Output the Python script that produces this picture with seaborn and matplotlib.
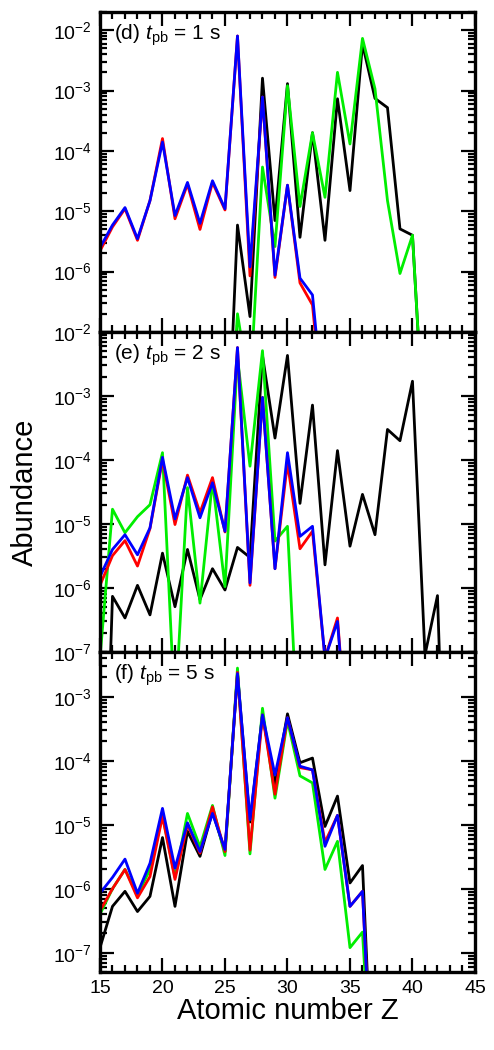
import numpy as np
import pandas as pd
import matplotlib
matplotlib.use("Agg")
import matplotlib.pyplot as plt
import seaborn as sns
from matplotlib.ticker import LogLocator, NullFormatter, MultipleLocator

# atomic number axis
Z = list(range(15, 46))
N = None

# (d) t_pb = 1 s
d_black = [N]*10 + [1e-10, 5.9e-6, 1.8e-7, 1.6e-3, 7e-6, 1.3e-3, 3.7e-6, 2e-4, 3.3e-6, 7.3e-4,
                    2.2e-5, 5.9e-3, 7.4e-4, 5.2e-4, 5.1e-6, 4e-6, 1e-9] + [N]*4
d_green = [N]*10 + [1e-10, 2e-7, 1e-8, 5.4e-5, 2.6e-6, 1.2e-3, 1.2e-5, 2e-4, 1.7e-5, 2e-3,
                    1.3e-4, 7.3e-3, 1.07e-3, 1.5e-5, 9.3e-7, 4e-6, 1e-9] + [N]*4
d_red = [2.2e-6, 5.5e-6, 1.1e-5, 3.3e-6, 1.5e-5, 1.6e-4, 7.5e-6, 2.8e-5, 5e-6, 3e-5,
         1.05e-5, 8e-3, 8.5e-7, 7.8e-4, 8e-7, 2.7e-5, 6.5e-7, 2.8e-7, 2e-9] + [N]*12
d_blue = [2.5e-6, 5.9e-6, 1.15e-5, 3.5e-6, 1.5e-5, 1.4e-4, 8.5e-6, 3e-5, 6.3e-6, 3.2e-5,
          1.1e-5, 8e-3, 1.2e-6, 7.8e-4, 8.7e-7, 2.7e-5, 7.8e-7, 4.1e-7, 3e-9] + [N]*12

# (e) t_pb = 2 s
e_black = [1e-12, 7.4e-7, 3.4e-7, 1.1e-6, 3.8e-7, 3.5e-6, 5.1e-7, 4e-6, 6.6e-7, 2e-6,
           9.3e-7, 4.3e-6, 3e-6, 4.3e-3, 2.2e-4, 4.3e-3, 2.1e-5, 7.2e-4, 2.3e-6, 1.4e-4,
           4.5e-6, 2.9e-5, 6.8e-6, 3e-4, 2e-4, 1.7e-3, 9e-8, 7.6e-7, 1e-12] + [N]*2
e_green = [8e-8, 1.7e-5, 7.3e-6, 1.3e-5, 2e-5, 1.3e-4, 1e-8, 3.7e-5, 5.8e-7, 4.7e-5,
           1.05e-6, 4e-3, 8e-5, 5.1e-3, 5.4e-6, 9.2e-6, 1e-9] + [N]*14
e_red = [1.1e-6, 3.2e-6, 5.5e-6, 2.2e-6, 8.5e-6, 1e-4, 9.8e-6, 5.8e-5, 1.5e-5, 5.3e-5,
         7.5e-6, 5.7e-3, 1.1e-6, 9.5e-4, 2e-6, 9e-5, 4.1e-6, 7.7e-6, 8e-8, 3.4e-7, 1e-9] + [N]*10
e_blue = [1.5e-6, 4e-6, 6.8e-6, 3.3e-6, 8.7e-6, 1.1e-4, 1.2e-5, 5.3e-5, 1.25e-5, 4.4e-5,
          7.7e-6, 5.7e-3, 1.2e-6, 9.5e-4, 2e-6, 1.3e-4, 6.4e-6, 9.2e-6, 8e-8, 3e-7, 1e-9] + [N]*10

# (f) t_pb = 5 s
f_black = [1.2e-7, 5.3e-7, 9.1e-7, 4.4e-7, 7.6e-7, 6.3e-6, 5.3e-7, 7.9e-6, 3.2e-6, 1.6e-5,
           3.8e-6, 2.3e-3, 1.1e-5, 5.2e-4, 4.2e-5, 5.4e-4, 9.3e-5, 1.1e-4, 9.4e-6, 2.8e-5,
           1.23e-6, 2.3e-6, 1e-10] + [N]*8
f_green = [4e-7, 1e-6, 2e-6, 8e-7, 2e-6, 1.4e-5, 1.5e-6, 1.5e-5, 4.5e-6, 2e-5,
           3.3e-6, 2.8e-3, 3.5e-6, 6.6e-4, 2.6e-5, 4.2e-4, 5.8e-5, 4.5e-5, 2e-6, 5.5e-6,
           1.2e-7, 2.1e-7, 1e-10] + [N]*8
f_red = [4.5e-7, 1e-6, 2e-6, 7.2e-7, 1.55e-6, 1.35e-5, 1.4e-6, 1e-5, 3.6e-6, 1.9e-5,
         3.8e-6, 2.4e-3, 4e-6, 5.2e-4, 3e-5, 4.7e-4, 7.8e-5, 7.2e-5, 5.3e-6, 1.4e-5,
         5.3e-7, 9.1e-7, 1e-10] + [N]*8
f_blue = [8.5e-7, 1.5e-6, 2.9e-6, 8.5e-7, 2.5e-6, 1.8e-5, 2.1e-6, 1.07e-5, 3.8e-6, 1.5e-5,
          4.1e-6, 2.3e-3, 1.2e-5, 5.2e-4, 6e-5, 4.7e-4, 8.2e-5, 7.2e-5, 4.6e-6, 1.4e-5,
          5.3e-7, 9.1e-7, 1e-10] + [N]*8

labels = [r"(d) $t_{\rm pb}$ = 1 s", r"(e) $t_{\rm pb}$ = 2 s", r"(f) $t_{\rm pb}$ = 5 s"]
panels = [(d_black, d_green, d_red, d_blue),
          (e_black, e_green, e_red, e_blue),
          (f_black, f_green, f_red, f_blue)]
ylims = [(1e-7, 2e-2), (1e-7, 1e-2), (5e-8, 5e-3)]
models = ["black", "green", "red", "blue"]
palette = {"black": "#000000", "green": "#00ee00", "red": "#ff0000", "blue": "#0000ff"}

sns.set_style("ticks")
plt.rcParams["font.family"] = ["Liberation Sans", "DejaVu Sans"]
plt.rcParams["mathtext.fontset"] = "custom"
plt.rcParams["mathtext.rm"] = "Liberation Sans"
plt.rcParams["mathtext.it"] = "Liberation Sans:italic"
plt.rcParams["mathtext.bf"] = "Liberation Sans:bold"
for key in ["axes.edgecolor", "xtick.color", "ytick.color", "text.color",
            "axes.labelcolor", "xtick.labelcolor", "ytick.labelcolor"]:
    plt.rcParams[key] = "black"

fig, axes = plt.subplots(3, 1, figsize=(4.94, 10.5), dpi=100, sharex=True)
fig.subplots_adjust(left=0.2024, right=0.9615, top=0.9886, bottom=0.0743, hspace=0)

for i, (ax, series) in enumerate(zip(axes, panels)):
    rows = []
    for m, vals in zip(models, series):
        for z, v in zip(Z, vals):
            if v is not None:
                rows.append({"Z": z, "abundance": v, "model": m})
    df = pd.DataFrame(rows)
    sns.lineplot(data=df, x="Z", y="abundance", hue="model", hue_order=models,
                 palette=palette, estimator=None, legend=False, linewidth=2.0, ax=ax)
    ax.set_yscale("log")
    ax.set_xlim(15, 45)
    if i == 0:
        ax.set_yticks([1e-6, 1e-5, 1e-4, 1e-3, 1e-2])
    else:
        ax.yaxis.set_major_locator(LogLocator(base=10, numticks=20))
    ax.yaxis.set_minor_locator(LogLocator(base=10, subs=np.arange(2, 10), numticks=100))
    ax.yaxis.set_minor_formatter(NullFormatter())
    ax.set_ylim(*ylims[i])
    ax.xaxis.set_major_locator(MultipleLocator(5))
    ax.xaxis.set_minor_locator(MultipleLocator(1))
    ax.tick_params(which="both", direction="in", top=True, right=True, width=1.6)
    ax.tick_params(which="major", length=10, labelsize=14, pad=6)
    ax.tick_params(which="minor", length=5)
    for s in ax.spines.values():
        s.set_linewidth(2.4)
    ax.set_ylabel("")
    ax.set_xlabel("")
    ax.text(0.037, 0.928, labels[i], transform=ax.transAxes, fontsize=15, va="center")

axes[-1].set_xlabel("Atomic number Z", fontsize=21, labelpad=0)
fig.text(0.05, 0.531, "Abundance", rotation=90, fontsize=21, ha="center", va="center")

fig.savefig("out.png", dpi=100)
